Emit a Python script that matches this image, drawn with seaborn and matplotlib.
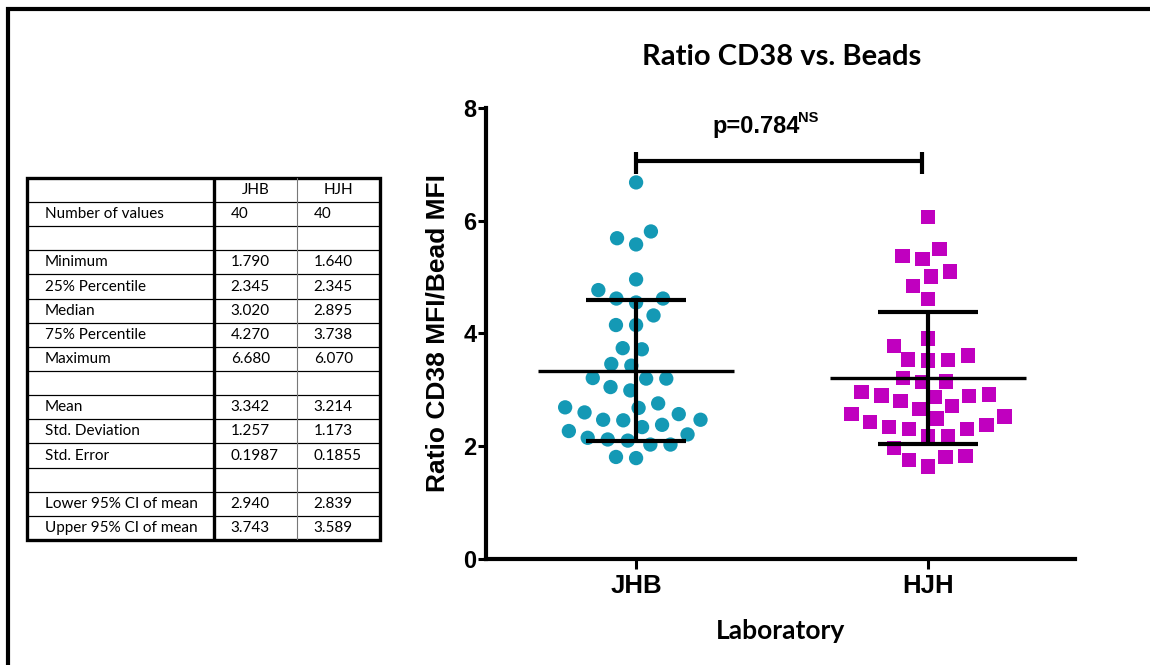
import numpy as np
import pandas as pd
import matplotlib
matplotlib.use('Agg')
import matplotlib.pyplot as plt
from matplotlib.patches import Rectangle
import seaborn as sns

# ---------------------------------------------------------
# data
# ---------------------------------------------------------
labs = ['JHB', 'HJH']
jhb_vals = [6.68, 5.81, 5.69, 5.58, 4.96, 4.77, 4.62, 4.55, 4.62, 4.32,
            4.15, 4.15, 3.72, 3.74, 3.43, 3.46, 3.20, 3.20, 3.21, 3.05,
            2.99, 2.76, 2.68, 2.57, 2.60, 2.69, 2.47, 2.38, 2.46, 2.47,
            2.34, 2.27, 2.15, 2.10, 2.21, 2.03, 2.03, 2.12, 1.79, 1.81]
hjh_vals = [6.07, 5.50, 5.37, 5.32, 5.10, 5.01, 4.84, 4.61, 3.91, 3.78,
            3.54, 3.52, 3.53, 3.61, 3.21, 3.14, 3.15, 2.90, 2.87, 2.96,
            2.89, 2.92, 2.71, 2.80, 2.66, 2.57, 2.49, 2.38, 2.53, 2.43,
            2.31, 2.30, 2.34, 2.18, 2.18, 1.97, 1.81, 1.64, 1.75, 1.83]
lab_colors = ['#1499B5', '#C000BF']
lab_markers = ['o', 's']

# mean +/- SD as reported in the table
group_mean = [3.342, 3.214]
group_sd = [1.257, 1.173]

p_text = 'p=0.784'
p_sup = 'NS'

table_labels = ['', 'Number of values', '', 'Minimum', '25% Percentile', 'Median',
                '75% Percentile', 'Maximum', '', 'Mean', 'Std. Deviation',
                'Std. Error', '', 'Lower 95% CI of mean', 'Upper 95% CI of mean']
jhb_stats = ['JHB', '40', '', '1.790', '2.345', '3.020', '4.270', '6.680', '',
             '3.342', '1.257', '0.1987', '', '2.940', '3.743']
hjh_stats = ['HJH', '40', '', '1.640', '2.345', '2.895', '3.738', '6.070', '',
             '3.214', '1.173', '0.1855', '', '2.839', '3.589']

df = pd.DataFrame({
    'Laboratory': ['JHB'] * len(jhb_vals) + ['HJH'] * len(hjh_vals),
    'Ratio': jhb_vals + hjh_vals,
})

# ---------------------------------------------------------
# style
# ---------------------------------------------------------
sns.set_style('white')
plt.rcParams['font.family'] = ['Liberation Sans', 'DejaVu Sans']
plt.rcParams.update({'text.color': 'black', 'axes.labelcolor': 'black',
                     'xtick.color': 'black', 'ytick.color': 'black',
                     'axes.edgecolor': 'black'})

fig = plt.figure(figsize=(11.5, 6.65), dpi=100, facecolor='white')

# outer frame (cropped on the right / bottom like the original)
fig.add_artist(Rectangle((0.007, -0.2), 1.3, 1.1865, transform=fig.transFigure,
                         fill=False, edgecolor='black', linewidth=3))

ax = fig.add_axes([0.4226, 0.1594, 0.5122, 0.6782])

# invisible edge width only widens the swarm spacing
for lab, col, mk in zip(labs, lab_colors, lab_markers):
    sns.swarmplot(data=df[df['Laboratory'] == lab], x='Laboratory', y='Ratio',
                  order=labs, color=col, marker=mk, size=10.3,
                  linewidth=3.5, edgecolor='none', ax=ax)

# mean and SD bars
pos = np.arange(len(labs))
mean = np.array(group_mean)
sd = np.array(group_sd)
ax.hlines(mean, pos - 0.336, pos + 0.336, color='black', lw=2.4, zorder=5)
ax.vlines(pos, mean - sd, mean + sd, color='black', lw=3, zorder=5)
ax.hlines(mean - sd, pos - 0.17, pos + 0.17, color='black', lw=3, zorder=5)
ax.hlines(mean + sd, pos - 0.17, pos + 0.17, color='black', lw=3, zorder=5)

# significance bracket
ax.plot([0, 0.98], [7.06, 7.06], color='black', lw=3, clip_on=False,
        solid_capstyle='butt')
ax.vlines([0, 0.98], 6.83, 7.22, color='black', lw=3, clip_on=False)
t = ax.text(0.26, 7.55, p_text, ha='left', va='baseline', fontsize=17,
            fontweight='bold')
ax.annotate(p_sup, xy=(1, 0.6), xycoords=t, xytext=(-1, 0),
            textcoords='offset points', ha='left', va='bottom',
            fontsize=10.5, fontweight='bold')

# axes
ax.set_ylim(0, 8)
ax.set_yticks([0, 2, 4, 6, 8])
ax.set_xlim(-0.514, 1.503)
sns.despine(ax=ax)
for s in ['left', 'bottom']:
    ax.spines[s].set_linewidth(3)
ax.tick_params(axis='y', length=6, width=2.2, pad=1, labelsize=17, left=True)
ax.tick_params(axis='x', length=7, width=2.2, pad=4, labelsize=18.5, bottom=True)
for lbl in ax.get_xticklabels() + ax.get_yticklabels():
    lbl.set_fontweight('bold')

ax.set_ylabel('Ratio CD38 MFI/Bead MFI', fontsize=19, fontweight='bold')
ax.yaxis.set_label_coords(-0.062, 0.5)
ax.set_xlabel('Laboratory', fontsize=19, fontweight='bold', family='Lato')
ax.xaxis.set_label_coords(0.5, -0.133)

fig.text(0.68, 0.9143, 'Ratio CD38 vs. Beads', ha='center', va='center',
         fontsize=21, fontweight='bold', family='Lato')

# ---------------------------------------------------------
# summary table
# ---------------------------------------------------------
tax = fig.add_axes([0.02348, 0.188, 0.307, 0.5444])
tax.set_xlim(0, 1)
tax.set_ylim(0, 1)
tax.axis('off')

cell_text = [[a, b, c] for a, b, c in zip(table_labels, jhb_stats, hjh_stats)]
col_w = [187 / 353, 83 / 353, 83 / 353]
tbl = tax.table(cellText=cell_text, colWidths=col_w, bbox=[0, 0, 1, 1],
                cellLoc='left')
tbl.auto_set_font_size(False)
for (r, c), cell in tbl.get_celld().items():
    cell.visible_edges = 'horizontal'
    cell.set_linewidth(0.8)
    cell.set_edgecolor('black')
    cell.get_text().set_fontsize(11)
    cell.get_text().set_family('Lato')
    cell.PAD = 0.096 if c == 0 else 0.2
    if r == 0:
        cell.get_text().set_ha('center')
        cell.PAD = 0.0
        cell._loc = 'center'

tax.axvline(col_w[0], color='black', lw=2.4)
tax.axvline(col_w[0] + col_w[1], color='#777777', lw=0.8)
tax.add_patch(Rectangle((0, 0), 1, 1, fill=False, edgecolor='black', lw=2.4,
                        clip_on=False))

fig.savefig('out.png', dpi=100, facecolor='white')
